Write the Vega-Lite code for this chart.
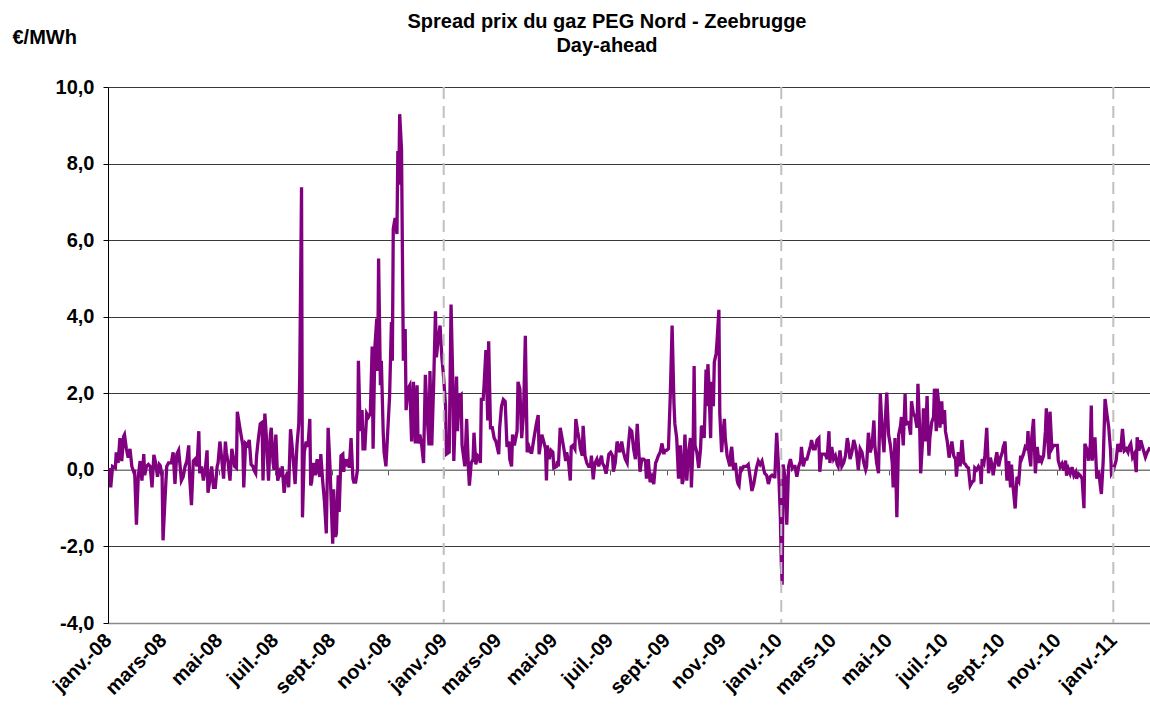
{
  "$schema": "https://vega.github.io/schema/vega-lite/v6.json",
  "width": 1042,
  "height": 536,
  "autosize": "none",
  "padding": {"left": 108, "top": 87, "right": 0, "bottom": 88},
  "background": "white",
  "config": {"view": {"stroke": null}, "font": "Liberation Sans"},
  "title": {
    "text": ["Spread prix du gaz PEG Nord - Zeebrugge", "Day-ahead"],
    "font": "Liberation Sans", "fontSize": 20, "fontWeight": "bold", "color": "black",
    "anchor": "middle", "frame": "group", "dx": -22, "lineHeight": 24, "offset": -29
  },
  "datasets": {
    "years": [{"date": "2009-01-01"}, {"date": "2010-01-04"}, {"date": "2011-01-01"}],
    "spread": [
{"date":"2008-01-03","spread":0.05},{"date":"2008-01-04","spread":-0.46},{"date":"2008-01-06","spread":0.09},{"date":"2008-01-09","spread":0.05},{"date":"2008-01-10","spread":0.46},{"date":"2008-01-12","spread":0.18},{"date":"2008-01-14","spread":0.83},{"date":"2008-01-16","spread":0.23},{"date":"2008-01-18","spread":0.87},{"date":"2008-01-19","spread":0.92},{"date":"2008-01-21","spread":0.55},{"date":"2008-01-23","spread":0.32},{"date":"2008-01-25","spread":0.55},{"date":"2008-01-27","spread":0.09},{"date":"2008-01-29","spread":-0.05},{"date":"2008-01-30","spread":0.0},
{"date":"2008-02-01","spread":-1.43},{"date":"2008-02-03","spread":-0.18},{"date":"2008-02-05","spread":0.23},{"date":"2008-02-07","spread":-0.28},{"date":"2008-02-09","spread":0.41},{"date":"2008-02-10","spread":-0.14},{"date":"2008-02-12","spread":0.09},{"date":"2008-02-14","spread":0.14},{"date":"2008-02-16","spread":0.09},{"date":"2008-02-18","spread":-0.46},{"date":"2008-02-20","spread":0.39},{"date":"2008-02-22","spread":0.18},{"date":"2008-02-24","spread":-0.18},{"date":"2008-02-26","spread":0.14},{"date":"2008-02-27","spread":0.11},{"date":"2008-02-29","spread":-0.18},
{"date":"2008-03-01","spread":-1.84},{"date":"2008-03-03","spread":-0.83},{"date":"2008-03-05","spread":0.09},{"date":"2008-03-07","spread":0.18},{"date":"2008-03-09","spread":0.18},{"date":"2008-03-10","spread":0.18},{"date":"2008-03-12","spread":0.46},{"date":"2008-03-14","spread":-0.37},{"date":"2008-03-16","spread":0.41},{"date":"2008-03-18","spread":0.51},{"date":"2008-03-20","spread":0.0},{"date":"2008-03-21","spread":-0.28},{"date":"2008-03-23","spread":-0.18},{"date":"2008-03-25","spread":0.09},{"date":"2008-03-27","spread":0.23},{"date":"2008-03-29","spread":0.64},{"date":"2008-03-30","spread":-0.18},
{"date":"2008-04-01","spread":-0.92},{"date":"2008-04-03","spread":0.23},{"date":"2008-04-05","spread":0.28},{"date":"2008-04-07","spread":0.09},{"date":"2008-04-09","spread":1.01},{"date":"2008-04-10","spread":-0.09},{"date":"2008-04-12","spread":0.09},{"date":"2008-04-14","spread":-0.28},{"date":"2008-04-16","spread":0.0},{"date":"2008-04-18","spread":0.51},{"date":"2008-04-19","spread":-0.6},{"date":"2008-04-21","spread":-0.28},{"date":"2008-04-23","spread":0.09},{"date":"2008-04-25","spread":-0.46},{"date":"2008-04-27","spread":-0.46},{"date":"2008-04-29","spread":0.09},{"date":"2008-04-30","spread":0.18},
{"date":"2008-05-02","spread":0.74},{"date":"2008-05-04","spread":0.28},{"date":"2008-05-06","spread":-0.23},{"date":"2008-05-08","spread":0.74},{"date":"2008-05-09","spread":0.46},{"date":"2008-05-11","spread":0.18},{"date":"2008-05-13","spread":-0.28},{"date":"2008-05-15","spread":0.55},{"date":"2008-05-17","spread":0.28},{"date":"2008-05-18","spread":0.09},{"date":"2008-05-20","spread":0.05},{"date":"2008-05-21","spread":1.52},{"date":"2008-05-24","spread":1.06},{"date":"2008-05-27","spread":0.64},{"date":"2008-05-28","spread":-0.46},{"date":"2008-05-30","spread":0.69},
{"date":"2008-06-01","spread":0.64},{"date":"2008-06-03","spread":0.78},{"date":"2008-06-05","spread":0.14},{"date":"2008-06-07","spread":0.09},{"date":"2008-06-08","spread":0.0},{"date":"2008-06-10","spread":-0.09},{"date":"2008-06-11","spread":0.37},{"date":"2008-06-13","spread":0.83},{"date":"2008-06-15","spread":1.2},{"date":"2008-06-17","spread":1.24},{"date":"2008-06-18","spread":-0.28},{"date":"2008-06-20","spread":1.47},{"date":"2008-06-22","spread":0.74},{"date":"2008-06-24","spread":-0.28},{"date":"2008-06-26","spread":0.92},{"date":"2008-06-27","spread":1.1},{"date":"2008-06-29","spread":0.18},{"date":"2008-06-30","spread":0.0},
{"date":"2008-07-02","spread":0.92},{"date":"2008-07-04","spread":-0.28},{"date":"2008-07-06","spread":-0.09},{"date":"2008-07-07","spread":-0.18},{"date":"2008-07-09","spread":0.09},{"date":"2008-07-11","spread":-0.6},{"date":"2008-07-13","spread":-0.18},{"date":"2008-07-15","spread":-0.05},{"date":"2008-07-16","spread":-0.46},{"date":"2008-07-18","spread":1.06},{"date":"2008-07-20","spread":0.55},{"date":"2008-07-23","spread":-0.37},{"date":"2008-07-25","spread":0.64},{"date":"2008-07-27","spread":1.2},{"date":"2008-07-28","spread":2.39},{"date":"2008-07-30","spread":7.38},{"date":"2008-07-31","spread":-1.24},
{"date":"2008-08-02","spread":0.46},{"date":"2008-08-04","spread":0.74},{"date":"2008-08-06","spread":0.6},{"date":"2008-08-08","spread":1.33},{"date":"2008-08-09","spread":-0.41},{"date":"2008-08-10","spread":-0.32},{"date":"2008-08-12","spread":0.18},{"date":"2008-08-14","spread":-0.14},{"date":"2008-08-16","spread":0.28},{"date":"2008-08-17","spread":0.0},{"date":"2008-08-19","spread":-0.18},{"date":"2008-08-20","spread":0.41},{"date":"2008-08-22","spread":-0.28},{"date":"2008-08-24","spread":-0.83},{"date":"2008-08-26","spread":-1.66},{"date":"2008-08-28","spread":1.1},{"date":"2008-08-30","spread":0.09},
{"date":"2008-09-01","spread":-1.29},{"date":"2008-09-02","spread":-1.93},{"date":"2008-09-03","spread":-0.51},{"date":"2008-09-05","spread":-1.75},{"date":"2008-09-06","spread":-1.66},{"date":"2008-09-08","spread":-0.14},{"date":"2008-09-09","spread":-1.1},{"date":"2008-09-11","spread":0.37},{"date":"2008-09-13","spread":0.41},{"date":"2008-09-14","spread":-0.05},{"date":"2008-09-15","spread":0.28},{"date":"2008-09-17","spread":0.09},{"date":"2008-09-19","spread":0.28},{"date":"2008-09-20","spread":0.05},{"date":"2008-09-22","spread":0.83},{"date":"2008-09-24","spread":-0.23},{"date":"2008-09-25","spread":-0.32},{"date":"2008-09-27","spread":-0.32},{"date":"2008-09-29","spread":0.0},{"date":"2008-09-30","spread":2.85},
{"date":"2008-10-02","spread":1.01},{"date":"2008-10-04","spread":1.56},{"date":"2008-10-05","spread":0.55},{"date":"2008-10-07","spread":0.55},{"date":"2008-10-09","spread":1.47},{"date":"2008-10-11","spread":1.38},{"date":"2008-10-13","spread":1.47},{"date":"2008-10-15","spread":3.22},{"date":"2008-10-16","spread":0.55},{"date":"2008-10-18","spread":3.22},{"date":"2008-10-20","spread":3.95},{"date":"2008-10-21","spread":2.58},{"date":"2008-10-22","spread":5.52},{"date":"2008-10-24","spread":2.21},{"date":"2008-10-25","spread":2.85},{"date":"2008-10-27","spread":1.01},{"date":"2008-10-28","spread":0.46},{"date":"2008-10-30","spread":0.09},
{"date":"2008-11-01","spread":1.01},{"date":"2008-11-03","spread":1.93},{"date":"2008-11-05","spread":3.86},{"date":"2008-11-06","spread":2.85},{"date":"2008-11-07","spread":6.3},{"date":"2008-11-09","spread":6.58},{"date":"2008-11-11","spread":6.16},{"date":"2008-11-12","spread":8.33},{"date":"2008-11-13","spread":7.45},{"date":"2008-11-14","spread":9.29},{"date":"2008-11-16","spread":8.37},{"date":"2008-11-17","spread":5.61},{"date":"2008-11-18","spread":2.85},{"date":"2008-11-20","spread":3.68},{"date":"2008-11-21","spread":1.56},{"date":"2008-11-23","spread":2.12},{"date":"2008-11-25","spread":2.21},{"date":"2008-11-27","spread":0.74},{"date":"2008-11-29","spread":2.3},
{"date":"2008-12-01","spread":0.69},{"date":"2008-12-03","spread":2.21},{"date":"2008-12-04","spread":0.69},{"date":"2008-12-06","spread":0.92},{"date":"2008-12-08","spread":0.64},{"date":"2008-12-10","spread":0.18},{"date":"2008-12-12","spread":2.48},{"date":"2008-12-14","spread":1.38},{"date":"2008-12-16","spread":0.64},{"date":"2008-12-17","spread":2.58},{"date":"2008-12-19","spread":0.64},{"date":"2008-12-21","spread":2.21},{"date":"2008-12-23","spread":4.14},{"date":"2008-12-24","spread":2.94},{"date":"2008-12-26","spread":3.4},{"date":"2008-12-28","spread":3.77},{"date":"2008-12-30","spread":2.94},
{"date":"2009-01-01","spread":2.39},{"date":"2009-01-03","spread":1.66},{"date":"2009-01-04","spread":0.41},{"date":"2009-01-07","spread":0.46},{"date":"2009-01-09","spread":4.32},{"date":"2009-01-11","spread":2.21},{"date":"2009-01-12","spread":0.23},{"date":"2009-01-15","spread":2.44},{"date":"2009-01-16","spread":1.01},{"date":"2009-01-18","spread":1.93},{"date":"2009-01-20","spread":1.97},{"date":"2009-01-21","spread":0.64},{"date":"2009-01-23","spread":0.28},{"date":"2009-01-24","spread":0.09},{"date":"2009-01-26","spread":1.33},{"date":"2009-01-28","spread":0.0},{"date":"2009-01-29","spread":-0.41},{"date":"2009-01-31","spread":0.18},
{"date":"2009-02-02","spread":0.28},{"date":"2009-02-03","spread":0.97},{"date":"2009-02-05","spread":0.14},{"date":"2009-02-07","spread":0.37},{"date":"2009-02-09","spread":0.32},{"date":"2009-02-10","spread":0.18},{"date":"2009-02-11","spread":1.84},{"date":"2009-02-13","spread":1.84},{"date":"2009-02-14","spread":2.21},{"date":"2009-02-16","spread":3.13},{"date":"2009-02-18","spread":1.29},{"date":"2009-02-19","spread":3.36},{"date":"2009-02-21","spread":1.1},{"date":"2009-02-23","spread":1.1},{"date":"2009-02-25","spread":0.83},{"date":"2009-02-27","spread":0.74},
{"date":"2009-03-02","spread":0.41},{"date":"2009-03-03","spread":1.1},{"date":"2009-03-05","spread":1.66},{"date":"2009-03-07","spread":1.84},{"date":"2009-03-09","spread":1.79},{"date":"2009-03-11","spread":0.6},{"date":"2009-03-13","spread":0.74},{"date":"2009-03-14","spread":0.28},{"date":"2009-03-16","spread":0.09},{"date":"2009-03-17","spread":0.92},{"date":"2009-03-19","spread":0.64},{"date":"2009-03-22","spread":1.01},{"date":"2009-03-23","spread":2.3},{"date":"2009-03-25","spread":2.12},{"date":"2009-03-27","spread":0.83},{"date":"2009-03-29","spread":1.47},{"date":"2009-03-31","spread":3.5},
{"date":"2009-04-02","spread":0.46},{"date":"2009-04-04","spread":0.6},{"date":"2009-04-06","spread":0.46},{"date":"2009-04-07","spread":0.46},{"date":"2009-04-10","spread":0.92},{"date":"2009-04-12","spread":1.2},{"date":"2009-04-14","spread":1.43},{"date":"2009-04-15","spread":0.41},{"date":"2009-04-18","spread":0.92},{"date":"2009-04-20","spread":0.74},{"date":"2009-04-22","spread":0.55},{"date":"2009-04-23","spread":-0.28},{"date":"2009-04-24","spread":0.64},{"date":"2009-04-26","spread":0.28},{"date":"2009-04-28","spread":0.51},{"date":"2009-04-30","spread":0.46},
{"date":"2009-05-01","spread":0.05},{"date":"2009-05-04","spread":0.09},{"date":"2009-05-05","spread":0.23},{"date":"2009-05-06","spread":0.09},{"date":"2009-05-08","spread":1.1},{"date":"2009-05-10","spread":0.83},{"date":"2009-05-12","spread":0.55},{"date":"2009-05-14","spread":0.23},{"date":"2009-05-15","spread":0.46},{"date":"2009-05-17","spread":0.23},{"date":"2009-05-19","spread":-0.28},{"date":"2009-05-20","spread":0.6},{"date":"2009-05-22","spread":0.64},{"date":"2009-05-24","spread":0.55},{"date":"2009-05-25","spread":1.33},{"date":"2009-05-27","spread":1.01},{"date":"2009-05-29","spread":0.74},{"date":"2009-05-30","spread":0.55},
{"date":"2009-06-01","spread":0.37},{"date":"2009-06-02","spread":1.15},{"date":"2009-06-04","spread":0.37},{"date":"2009-06-06","spread":0.18},{"date":"2009-06-08","spread":0.09},{"date":"2009-06-10","spread":0.09},{"date":"2009-06-11","spread":0.37},{"date":"2009-06-13","spread":-0.25},{"date":"2009-06-14","spread":0.0},{"date":"2009-06-15","spread":0.18},{"date":"2009-06-17","spread":0.28},{"date":"2009-06-19","spread":0.09},{"date":"2009-06-21","spread":0.28},{"date":"2009-06-22","spread":0.37},{"date":"2009-06-23","spread":0.18},{"date":"2009-06-25","spread":0.09},{"date":"2009-06-27","spread":-0.1},{"date":"2009-06-28","spread":0.05},{"date":"2009-06-30","spread":0.41},
{"date":"2009-07-02","spread":0.46},{"date":"2009-07-04","spread":0.37},{"date":"2009-07-05","spread":-0.05},{"date":"2009-07-07","spread":0.18},{"date":"2009-07-09","spread":0.74},{"date":"2009-07-11","spread":0.55},{"date":"2009-07-12","spread":0.46},{"date":"2009-07-14","spread":0.74},{"date":"2009-07-16","spread":0.46},{"date":"2009-07-18","spread":0.28},{"date":"2009-07-20","spread":0.18},{"date":"2009-07-21","spread":0.55},{"date":"2009-07-23","spread":1.06},{"date":"2009-07-25","spread":1.01},{"date":"2009-07-27","spread":0.55},{"date":"2009-07-29","spread":0.28},{"date":"2009-07-31","spread":1.2},
{"date":"2009-08-01","spread":0.74},{"date":"2009-08-03","spread":-0.05},{"date":"2009-08-05","spread":0.28},{"date":"2009-08-07","spread":0.28},{"date":"2009-08-09","spread":0.23},{"date":"2009-08-10","spread":-0.23},{"date":"2009-08-12","spread":0.28},{"date":"2009-08-14","spread":-0.32},{"date":"2009-08-16","spread":-0.18},{"date":"2009-08-18","spread":-0.37},{"date":"2009-08-20","spread":0.18},{"date":"2009-08-21","spread":0.23},{"date":"2009-08-23","spread":0.37},{"date":"2009-08-25","spread":0.46},{"date":"2009-08-27","spread":0.69},{"date":"2009-08-29","spread":0.41},{"date":"2009-08-30","spread":0.51},
{"date":"2009-09-01","spread":0.51},{"date":"2009-09-03","spread":0.55},{"date":"2009-09-05","spread":1.93},{"date":"2009-09-07","spread":3.77},{"date":"2009-09-09","spread":1.75},{"date":"2009-09-10","spread":1.2},{"date":"2009-09-12","spread":0.83},{"date":"2009-09-14","spread":-0.23},{"date":"2009-09-16","spread":0.64},{"date":"2009-09-18","spread":-0.37},{"date":"2009-09-19","spread":-0.28},{"date":"2009-09-21","spread":0.92},{"date":"2009-09-23","spread":-0.28},{"date":"2009-09-25","spread":0.46},{"date":"2009-09-27","spread":0.83},{"date":"2009-09-28","spread":-0.46},{"date":"2009-09-30","spread":0.74},
{"date":"2009-10-01","spread":2.71},{"date":"2009-10-02","spread":0.64},{"date":"2009-10-04","spread":0.46},{"date":"2009-10-06","spread":0.05},{"date":"2009-10-08","spread":0.55},{"date":"2009-10-09","spread":1.15},{"date":"2009-10-10","spread":1.1},{"date":"2009-10-12","spread":0.83},{"date":"2009-10-14","spread":2.62},{"date":"2009-10-15","spread":1.66},{"date":"2009-10-16","spread":2.76},{"date":"2009-10-17","spread":2.3},{"date":"2009-10-19","spread":0.83},{"date":"2009-10-20","spread":2.3},{"date":"2009-10-22","spread":1.66},{"date":"2009-10-23","spread":2.81},{"date":"2009-10-25","spread":3.04},{"date":"2009-10-26","spread":3.36},{"date":"2009-10-28","spread":4.18},{"date":"2009-10-29","spread":1.47},{"date":"2009-10-31","spread":0.46},
{"date":"2009-11-01","spread":0.83},{"date":"2009-11-03","spread":1.33},{"date":"2009-11-04","spread":0.83},{"date":"2009-11-06","spread":0.37},{"date":"2009-11-07","spread":0.28},{"date":"2009-11-09","spread":0.09},{"date":"2009-11-10","spread":0.46},{"date":"2009-11-11","spread":0.6},{"date":"2009-11-13","spread":0.0},{"date":"2009-11-15","spread":0.18},{"date":"2009-11-17","spread":-0.28},{"date":"2009-11-18","spread":-0.37},{"date":"2009-11-19","spread":-0.41},{"date":"2009-11-21","spread":0.09},{"date":"2009-11-22","spread":0.0},{"date":"2009-11-24","spread":0.09},{"date":"2009-11-26","spread":0.09},{"date":"2009-11-27","spread":0.09},{"date":"2009-11-29","spread":0.14},
{"date":"2009-12-01","spread":-0.18},{"date":"2009-12-03","spread":-0.55},{"date":"2009-12-05","spread":-0.37},{"date":"2009-12-07","spread":-0.09},{"date":"2009-12-08","spread":0.05},{"date":"2009-12-10","spread":0.23},{"date":"2009-12-12","spread":0.14},{"date":"2009-12-14","spread":0.23},{"date":"2009-12-16","spread":0.0},{"date":"2009-12-17","spread":-0.09},{"date":"2009-12-19","spread":-0.14},{"date":"2009-12-21","spread":-0.37},{"date":"2009-12-23","spread":-0.18},{"date":"2009-12-25","spread":-0.14},{"date":"2009-12-27","spread":-0.18},{"date":"2009-12-28","spread":-0.18},{"date":"2009-12-30","spread":0.97},
{"date":"2010-01-01","spread":0.09},{"date":"2010-01-03","spread":-1.24},{"date":"2010-01-04","spread":-2.4},{"date":"2010-01-05","spread":-3.0},{"date":"2010-01-06","spread":0.14},{"date":"2010-01-08","spread":-0.18},{"date":"2010-01-10","spread":-1.43},{"date":"2010-01-12","spread":0.09},{"date":"2010-01-14","spread":0.28},{"date":"2010-01-16","spread":0.05},{"date":"2010-01-17","spread":0.09},{"date":"2010-01-19","spread":0.09},{"date":"2010-01-21","spread":-0.18},{"date":"2010-01-23","spread":0.09},{"date":"2010-01-25","spread":0.23},{"date":"2010-01-26","spread":0.6},{"date":"2010-01-28","spread":0.09},{"date":"2010-01-30","spread":0.28},
{"date":"2010-02-01","spread":0.28},{"date":"2010-02-03","spread":0.46},{"date":"2010-02-05","spread":0.64},{"date":"2010-02-06","spread":0.78},{"date":"2010-02-08","spread":0.55},{"date":"2010-02-10","spread":0.55},{"date":"2010-02-12","spread":0.78},{"date":"2010-02-14","spread":0.83},{"date":"2010-02-15","spread":-0.05},{"date":"2010-02-17","spread":0.41},{"date":"2010-02-19","spread":0.41},{"date":"2010-02-21","spread":0.41},{"date":"2010-02-23","spread":0.28},{"date":"2010-02-25","spread":1.01},{"date":"2010-02-26","spread":0.18},{"date":"2010-02-28","spread":0.6},
{"date":"2010-03-02","spread":0.28},{"date":"2010-03-04","spread":0.37},{"date":"2010-03-06","spread":0.14},{"date":"2010-03-07","spread":0.09},{"date":"2010-03-09","spread":0.51},{"date":"2010-03-11","spread":0.09},{"date":"2010-03-13","spread":0.18},{"date":"2010-03-15","spread":0.37},{"date":"2010-03-17","spread":0.83},{"date":"2010-03-18","spread":0.69},{"date":"2010-03-20","spread":0.28},{"date":"2010-03-22","spread":0.46},{"date":"2010-03-24","spread":0.78},{"date":"2010-03-26","spread":0.6},{"date":"2010-03-27","spread":0.46},{"date":"2010-03-29","spread":0.0},{"date":"2010-03-31","spread":0.55},
{"date":"2010-04-02","spread":0.46},{"date":"2010-04-04","spread":0.18},{"date":"2010-04-06","spread":0.0},{"date":"2010-04-07","spread":0.09},{"date":"2010-04-09","spread":0.97},{"date":"2010-04-11","spread":0.46},{"date":"2010-04-13","spread":0.64},{"date":"2010-04-15","spread":1.29},{"date":"2010-04-16","spread":0.64},{"date":"2010-04-18","spread":0.18},{"date":"2010-04-20","spread":-0.09},{"date":"2010-04-22","spread":1.98},{"date":"2010-04-24","spread":1.01},{"date":"2010-04-26","spread":0.46},{"date":"2010-04-27","spread":1.1},{"date":"2010-04-29","spread":2.02},
{"date":"2010-05-01","spread":0.92},{"date":"2010-05-03","spread":0.64},{"date":"2010-05-05","spread":0.18},{"date":"2010-05-06","spread":-0.46},{"date":"2010-05-08","spread":0.83},{"date":"2010-05-10","spread":-1.24},{"date":"2010-05-12","spread":0.92},{"date":"2010-05-14","spread":1.15},{"date":"2010-05-15","spread":1.38},{"date":"2010-05-17","spread":0.64},{"date":"2010-05-19","spread":1.98},{"date":"2010-05-20","spread":1.2},{"date":"2010-05-22","spread":1.24},{"date":"2010-05-23","spread":1.24},{"date":"2010-05-25","spread":0.92},{"date":"2010-05-26","spread":1.79},{"date":"2010-05-28","spread":1.47},{"date":"2010-05-30","spread":1.38},
{"date":"2010-06-01","spread":1.1},{"date":"2010-06-02","spread":2.25},{"date":"2010-06-04","spread":1.01},{"date":"2010-06-05","spread":-0.09},{"date":"2010-06-07","spread":0.74},{"date":"2010-06-08","spread":1.61},{"date":"2010-06-10","spread":0.74},{"date":"2010-06-12","spread":1.93},{"date":"2010-06-13","spread":1.01},{"date":"2010-06-14","spread":0.37},{"date":"2010-06-15","spread":0.83},{"date":"2010-06-17","spread":1.24},{"date":"2010-06-19","spread":1.38},{"date":"2010-06-20","spread":2.12},{"date":"2010-06-22","spread":1.01},{"date":"2010-06-23","spread":2.12},{"date":"2010-06-25","spread":1.66},{"date":"2010-06-26","spread":1.1},{"date":"2010-06-28","spread":1.79},{"date":"2010-06-29","spread":1.2},
{"date":"2010-07-01","spread":1.56},{"date":"2010-07-02","spread":1.01},{"date":"2010-07-04","spread":0.74},{"date":"2010-07-06","spread":0.32},{"date":"2010-07-07","spread":0.46},{"date":"2010-07-09","spread":0.74},{"date":"2010-07-11","spread":0.37},{"date":"2010-07-13","spread":0.28},{"date":"2010-07-14","spread":-0.18},{"date":"2010-07-16","spread":0.46},{"date":"2010-07-18","spread":0.09},{"date":"2010-07-20","spread":0.78},{"date":"2010-07-22","spread":0.18},{"date":"2010-07-24","spread":0.14},{"date":"2010-07-25","spread":0.09},{"date":"2010-07-27","spread":0.05},{"date":"2010-07-29","spread":-0.41},{"date":"2010-07-31","spread":-0.32},
{"date":"2010-08-02","spread":-0.28},{"date":"2010-08-03","spread":0.05},{"date":"2010-08-05","spread":0.0},{"date":"2010-08-07","spread":0.09},{"date":"2010-08-09","spread":0.0},{"date":"2010-08-10","spread":-0.37},{"date":"2010-08-11","spread":0.28},{"date":"2010-08-13","spread":0.18},{"date":"2010-08-14","spread":0.37},{"date":"2010-08-16","spread":1.1},{"date":"2010-08-18","spread":-0.09},{"date":"2010-08-20","spread":0.32},{"date":"2010-08-22","spread":0.09},{"date":"2010-08-23","spread":-0.14},{"date":"2010-08-25","spread":0.18},{"date":"2010-08-27","spread":0.46},{"date":"2010-08-29","spread":0.09},{"date":"2010-08-31","spread":0.32},
{"date":"2010-09-02","spread":0.46},{"date":"2010-09-03","spread":0.6},{"date":"2010-09-05","spread":0.74},{"date":"2010-09-07","spread":-0.28},{"date":"2010-09-09","spread":0.23},{"date":"2010-09-11","spread":-0.46},{"date":"2010-09-12","spread":0.14},{"date":"2010-09-14","spread":-0.51},{"date":"2010-09-16","spread":-1.01},{"date":"2010-09-18","spread":-0.18},{"date":"2010-09-20","spread":-0.28},{"date":"2010-09-22","spread":0.37},{"date":"2010-09-23","spread":0.28},{"date":"2010-09-25","spread":0.41},{"date":"2010-09-27","spread":0.6},{"date":"2010-09-29","spread":0.55},{"date":"2010-09-30","spread":1.01},
{"date":"2010-10-01","spread":0.46},{"date":"2010-10-03","spread":0.09},{"date":"2010-10-04","spread":0.83},{"date":"2010-10-06","spread":1.33},{"date":"2010-10-08","spread":-0.09},{"date":"2010-10-10","spread":0.6},{"date":"2010-10-12","spread":0.18},{"date":"2010-10-13","spread":0.37},{"date":"2010-10-15","spread":0.23},{"date":"2010-10-17","spread":0.37},{"date":"2010-10-19","spread":1.01},{"date":"2010-10-20","spread":1.61},{"date":"2010-10-21","spread":1.01},{"date":"2010-10-23","spread":0.28},{"date":"2010-10-24","spread":1.52},{"date":"2010-10-26","spread":0.55},{"date":"2010-10-28","spread":0.64},{"date":"2010-10-30","spread":0.64},
{"date":"2010-11-01","spread":0.64},{"date":"2010-11-02","spread":0.24},{"date":"2010-11-04","spread":0.07},{"date":"2010-11-06","spread":0.16},{"date":"2010-11-08","spread":-0.02},{"date":"2010-11-10","spread":0.24},{"date":"2010-11-11","spread":-0.15},{"date":"2010-11-13","spread":0.03},{"date":"2010-11-15","spread":-0.1},{"date":"2010-11-17","spread":0.07},{"date":"2010-11-19","spread":-0.15},{"date":"2010-11-21","spread":-0.06},{"date":"2010-11-22","spread":-0.23},{"date":"2010-11-24","spread":-0.1},{"date":"2010-11-26","spread":-0.15},{"date":"2010-11-28","spread":-0.23},{"date":"2010-11-30","spread":-1.0},
{"date":"2010-12-01","spread":0.68},{"date":"2010-12-03","spread":0.55},{"date":"2010-12-05","spread":0.24},{"date":"2010-12-07","spread":0.68},{"date":"2010-12-08","spread":1.68},{"date":"2010-12-09","spread":0.24},{"date":"2010-12-11","spread":0.72},{"date":"2010-12-12","spread":0.85},{"date":"2010-12-14","spread":-0.23},{"date":"2010-12-16","spread":-0.02},{"date":"2010-12-18","spread":-0.45},{"date":"2010-12-19","spread":-0.63},{"date":"2010-12-21","spread":0.24},{"date":"2010-12-23","spread":1.85},{"date":"2010-12-25","spread":1.46},{"date":"2010-12-27","spread":1.11},{"date":"2010-12-29","spread":0.5},{"date":"2010-12-30","spread":-0.1},
{"date":"2011-01-01","spread":-0.02},{"date":"2011-01-02","spread":0.07},{"date":"2011-01-04","spread":0.24},{"date":"2011-01-06","spread":0.68},{"date":"2011-01-07","spread":0.5},{"date":"2011-01-09","spread":0.5},{"date":"2011-01-11","spread":1.07},{"date":"2011-01-13","spread":0.5},{"date":"2011-01-15","spread":0.55},{"date":"2011-01-17","spread":0.46},{"date":"2011-01-18","spread":0.59},{"date":"2011-01-20","spread":0.68},{"date":"2011-01-22","spread":0.33},{"date":"2011-01-24","spread":0.42},{"date":"2011-01-26","spread":-0.06},{"date":"2011-01-27","spread":0.85},{"date":"2011-01-29","spread":0.5},{"date":"2011-01-31","spread":0.77},
{"date":"2011-02-01","spread":0.68},{"date":"2011-02-03","spread":0.5},{"date":"2011-02-05","spread":0.33},{"date":"2011-02-07","spread":0.46},{"date":"2011-02-08","spread":0.5},{"date":"2011-02-10","spread":0.59}
    ]
  },
  "layer": [
    {
      "data": {"name": "spread"},
      "mark": {"type": "line", "color": "#800080", "strokeWidth": 3.3, "clip": true},
      "encoding": {
        "x": {
          "field": "date", "type": "temporal",
          "scale": {"type": "utc", "domain": [{"year": 2008, "month": 1, "date": 1, "utc": true}, {"year": 2011, "month": 2, "date": 10, "utc": true}]},
          "axis": {
            "orient": "bottom", "offset": -153.14, "title": null, "labels": false, "grid": false,
            "domain": true, "domainColor": "#7a7a7a", "domainWidth": 1.5,
            "ticks": true, "tickSize": 5, "tickColor": "#555555", "tickWidth": 1,
            "values": [
              {"year": 2008, "month": 1, "date": 1, "utc": true}, {"year": 2008, "month": 3, "date": 1, "utc": true}, {"year": 2008, "month": 5, "date": 1, "utc": true}, {"year": 2008, "month": 7, "date": 1, "utc": true}, {"year": 2008, "month": 9, "date": 1, "utc": true}, {"year": 2008, "month": 11, "date": 1, "utc": true},
              {"year": 2009, "month": 1, "date": 1, "utc": true}, {"year": 2009, "month": 3, "date": 1, "utc": true}, {"year": 2009, "month": 5, "date": 1, "utc": true}, {"year": 2009, "month": 7, "date": 1, "utc": true}, {"year": 2009, "month": 9, "date": 1, "utc": true}, {"year": 2009, "month": 11, "date": 1, "utc": true},
              {"year": 2010, "month": 1, "date": 1, "utc": true}, {"year": 2010, "month": 3, "date": 1, "utc": true}, {"year": 2010, "month": 5, "date": 1, "utc": true}, {"year": 2010, "month": 7, "date": 1, "utc": true}, {"year": 2010, "month": 9, "date": 1, "utc": true}, {"year": 2010, "month": 11, "date": 1, "utc": true},
              {"year": 2011, "month": 1, "date": 1, "utc": true}
            ]
          }
        },
        "y": {
          "field": "spread", "type": "quantitative",
          "scale": {"domain": [-4, 10], "nice": false, "zero": false},
          "axis": {
            "values": [-4, -2, 0, 2, 4, 6, 8, 10],
            "labelExpr": "(datum.value < 0 ? '-' : '') + replace(format(abs(datum.value), '.1f'), '.', ',')",
            "labelFont": "Liberation Sans", "labelFontSize": 20, "labelFontWeight": "bold", "labelColor": "black",
            "labelPadding": 9, "tickSize": 5, "tickColor": "black", "domainColor": "black", "domainWidth": 1,
            "grid": true, "gridColor": "#3a3a3a", "gridWidth": 1,
            "title": "€/MWh", "titleAngle": 0, "titleX": -96, "titleY": -50, "titleAlign": "left", "titleBaseline": "middle",
            "titleFont": "Liberation Sans", "titleFontSize": 20, "titleFontWeight": "bold", "titleColor": "black"
          }
        }
      }
    },
    {
      "data": {"name": "years"},
      "mark": {"type": "rule", "color": "#c0c0c0", "strokeWidth": 2, "strokeDash": [12, 7]},
      "encoding": {
        "x": {
          "field": "date", "type": "temporal",
          "axis": {
            "orient": "bottom", "title": null, "grid": false, "ticks": false, "tickSize": 0,
            "domain": true, "domainColor": "#8a8a8a", "domainWidth": 1.5,
            "labelAngle": -45, "labelAlign": "right", "labelBaseline": "middle", "labelPadding": 14,
            "labelOverlap": false, "labelBound": false, "labelFlush": false,
            "labelFont": "Liberation Sans", "labelFontSize": 20, "labelFontWeight": "bold", "labelColor": "black",
            "labelExpr": "['janv.','févr.','mars','avr.','mai','juin','juil.','août','sept.','oct.','nov.','déc.'][utcmonth(datum.value)] + '-' + utcFormat(datum.value, '%y')",
            "values": [
              {"year": 2008, "month": 1, "date": 1, "utc": true}, {"year": 2008, "month": 3, "date": 1, "utc": true}, {"year": 2008, "month": 5, "date": 1, "utc": true}, {"year": 2008, "month": 7, "date": 1, "utc": true}, {"year": 2008, "month": 9, "date": 1, "utc": true}, {"year": 2008, "month": 11, "date": 1, "utc": true},
              {"year": 2009, "month": 1, "date": 1, "utc": true}, {"year": 2009, "month": 3, "date": 1, "utc": true}, {"year": 2009, "month": 5, "date": 1, "utc": true}, {"year": 2009, "month": 7, "date": 1, "utc": true}, {"year": 2009, "month": 9, "date": 1, "utc": true}, {"year": 2009, "month": 11, "date": 1, "utc": true},
              {"year": 2010, "month": 1, "date": 1, "utc": true}, {"year": 2010, "month": 3, "date": 1, "utc": true}, {"year": 2010, "month": 5, "date": 1, "utc": true}, {"year": 2010, "month": 7, "date": 1, "utc": true}, {"year": 2010, "month": 9, "date": 1, "utc": true}, {"year": 2010, "month": 11, "date": 1, "utc": true},
              {"year": 2011, "month": 1, "date": 1, "utc": true}
            ]
          }
        }
      }
    }
  ],
  "resolve": {"axis": {"x": "independent"}}
}
